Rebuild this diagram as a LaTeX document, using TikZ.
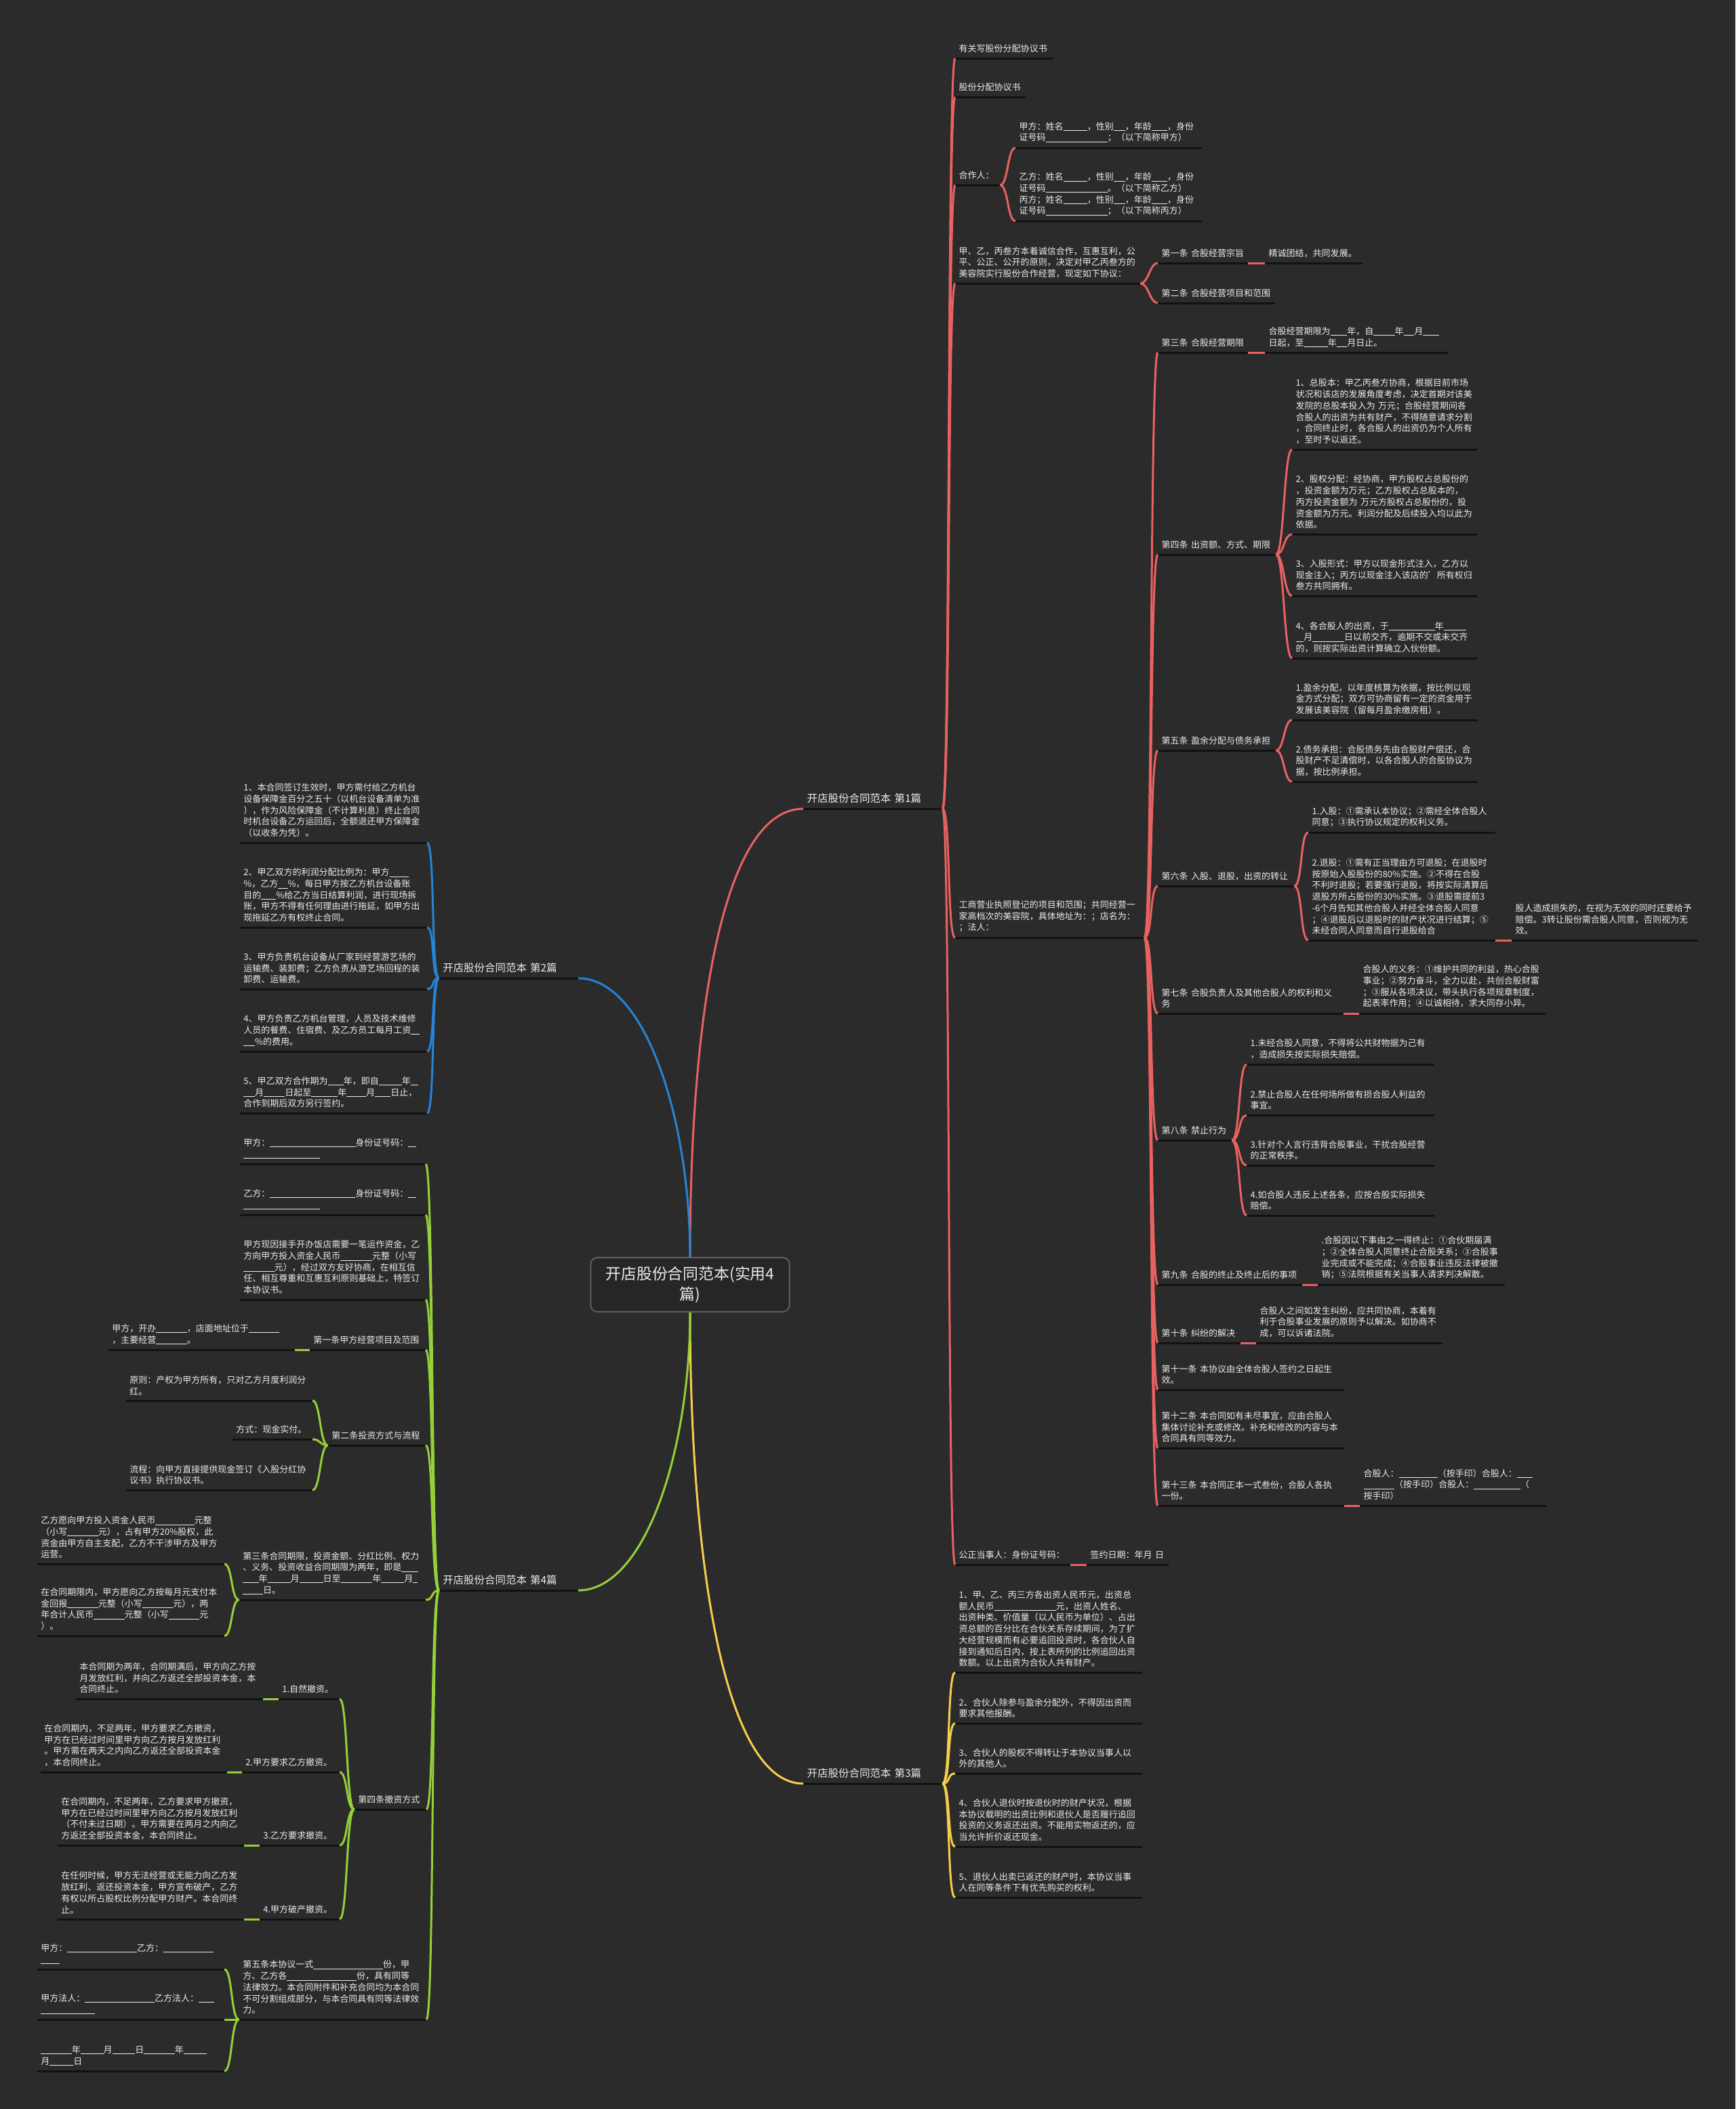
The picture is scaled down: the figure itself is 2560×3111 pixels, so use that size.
\documentclass[tikz,border=0pt]{standalone}
\usepackage{fontspec}
\setmainfont{Noto Sans CJK SC}
\usetikzlibrary{positioning}

\definecolor{bgc}{RGB}{43,43,43}
\definecolor{txt}{RGB}{236,236,236}
\definecolor{ulc}{RGB}{18,18,18}
\definecolor{rootfill}{RGB}{38,38,38}
\definecolor{rootline}{RGB}{95,95,95}
\definecolor{cred}{RGB}{232,98,98}
\definecolor{cblue}{RGB}{38,132,212}
\definecolor{cyel}{RGB}{246,206,74}
\definecolor{cgrn}{RGB}{148,208,58}

\newcommand{\bl}[1]{\rule[-0.12em]{#1em}{0.05em}}

\tikzset{
  ulline/.style={draw=ulc, line width=0.3mm},
  leaf/.style={font=\fontsize{3.7}{4.75}\selectfont, text=txt, inner xsep=0.5mm, inner ysep=0.75mm,
    align=left, text width=#1mm,
    append after command={(\tikzlastnode.south west) edge[ulline] (\tikzlastnode.south east)}},
  rleaf/.style={leaf=#1, anchor=south west},
  lleaf/.style={leaf=#1, anchor=south east},
  branch/.style={font=\fontsize{4.4}{5.5}\selectfont, text=txt, inner xsep=0.5mm, inner ysep=0.75mm,
    align=left, text width=19.4mm,
    append after command={(\tikzlastnode.south west) edge[ulline] (\tikzlastnode.south east)}},
  root/.style={font=\fontsize{6.5}{8.5}\selectfont, text=txt, fill=rootfill, draw=rootline, line width=0.2mm,
    rounded corners=1mm, minimum width=28.6mm, minimum height=8mm, text width=27mm, align=center},
  lred/.style={draw=cred, line width=0.3mm},
  lblue/.style={draw=cblue, line width=0.3mm},
  lyel/.style={draw=cyel, line width=0.3mm},
  lgrn/.style={draw=cgrn, line width=0.3mm},
  rt/.style={out=0, in=180, out distance=1.2mm, in distance=1.2mm},
  lt/.style={out=180, in=0, out distance=1.2mm, in distance=1.2mm},
}

\begin{document}
\begin{tikzpicture}[x=0.1mm, y=-0.1mm]
\useasboundingbox (0,0) rectangle (2560,3111);
\fill[bgc] (0,0) rectangle (2560,3111);

% centre and the four branches
\node[root] (root) at (1018,1895) {开店股份合同范本(实用4\\篇)};
\node[branch, anchor=south west] (b1) at (1185,1193) {开店股份合同范本~第1篇};
\node[branch, anchor=south east] (b2) at (853,1443) {开店股份合同范本~第2篇};
\node[branch, anchor=south west] (b3) at (1185,2631) {开店股份合同范本~第3篇};
\node[branch, anchor=south east] (b4) at (853,2346) {开店股份合同范本~第4篇};

% branch 1
\node[rleaf=13.3] (n11) at (1409,86) {有关写股份分配协议书};
\node[rleaf=9.3] (n12) at (1409,143) {股份分配协议书};
\node[rleaf=5.5] (n13) at (1409,273) {合作人：};
\node[rleaf=26.4] (n131) at (1498,218) {甲方：姓名\bl{2.7}，性别\bl{1.3}，年龄\bl{1.8}，身份\\证号码\bl{7}；（以下简称甲方）};
\node[rleaf=26.4] (n132) at (1498,326) {乙方：姓名\bl{2.7}，性别\bl{1.3}，年龄\bl{1.8}，身份\\证号码\bl{7}。（以下简称乙方）\\丙方；姓名\bl{2.7}，性别\bl{1.3}，年龄\bl{1.8}，身份\\证号码\bl{7}；（以下简称丙方）};
\node[rleaf=26.2] (n14) at (1409,418) {甲、乙，丙叁方本着诚信合作，互惠互利，公\\平、公正、公开的原则，决定对甲乙丙叁方的\\美容院实行股份合作经营，现定如下协议：};
\node[rleaf=12.2] (n141) at (1708,388) {第一条~合股经营宗旨};
\node[rleaf=13.3] (n1411) at (1866,388) {精诚团结，共同发展。};
\node[rleaf=16.2] (n142) at (1708,447) {第二条~合股经营项目和范围};
\node[rleaf=26.8] (n15) at (1409,1383) {工商营业执照登记的项目和范围；共同经营一\\家高档次的美容院，具体地址为：；店名为：\\；法人：};
\node[rleaf=12.2] (n151) at (1708,520) {第三条~合股经营期限};
\node[rleaf=25.9] (n1511) at (1866,520) {合股经营期限为\bl{1.9}年，自\bl{2.4}年\bl{1.2}月\bl{1.8}\\日起，至\bl{2.7}年\bl{1.2}月日止。};
\node[rleaf=16.3] (n152) at (1708,818) {第四条~出资额、方式、期限};
\node[rleaf=26.3] (n1521) at (1906,663) {1、总股本：甲乙丙叁方协商，根据目前市场\\状况和该店的发展角度考虑，决定首期对该美\\发院的总股本投入为~万元；合股经营期间各\\合股人的出资为共有财产，不得随意请求分割\\，合同终止时，各合股人的出资仍为个人所有\\，至时予以返还。};
\node[rleaf=26.3] (n1522) at (1906,788) {2、股权分配：经协商，甲方股权占总股份的\\，投资金额为万元；乙方股权占总股本的，\\丙方投资金额为~万元方股权占总股份的，投\\资金额为万元。利润分配及后续投入均以此为\\依据。};
\node[rleaf=26.3] (n1523) at (1906,879) {3、入股形式：甲方以现金形式注入，乙方以\\现金注入；丙方以现金注入该店的'所有权归\\叁方共同拥有。};
\node[rleaf=26.3] (n1524) at (1906,971) {4、各合股人的出资，于\bl{5.2}年\bl{2.6}\\\bl{0.9}月\bl{3.6}日以前交齐，逾期不交或未交齐\\的，则按实际出资计算确立入伙份额。};
\node[rleaf=16.3] (n153) at (1708,1107) {第五条~盈余分配与债务承担};
\node[rleaf=26.3] (n1531) at (1906,1062) {1.盈余分配，以年度核算为依据，按比例以现\\金方式分配；双方可协商留有一定的资金用于\\发展该美容院（留每月盈余缴房租）。};
\node[rleaf=26.3] (n1532) at (1906,1153) {2.债务承担：合股债务先由合股财产偿还，合\\股财产不足清偿时，以各合股人的合股协议为\\据，按比例承担。};
\node[rleaf=19.0] (n154) at (1708,1307) {第六条~入股、退股，出资的转让};
\node[rleaf=26.5] (n1541) at (1930,1228) {1.入股：①需承认本协议；②需经全体合股人\\同意；③执行协议规定的权利义务。};
\node[rleaf=26.5] (n1542) at (1930,1387) {2.退股：①需有正当理由方可退股；在退股时\\按原始入股股份的80\%实施。②不得在合股\\不利时退股；若要强行退股，将按实际清算后\\退股方所占股份的30\%实施。③退股需提前3\\-6个月告知其他合股人并经全体合股人同意\\；④退股后以退股时的财产状况进行结算；⑤\\未经合同人同意而自行退股给合};
\node[rleaf=26.4] (n1543) at (2230,1387) {股人造成损失的，在视为无效的同时还要给予\\赔偿。3转让股份需合股人同意，否则视为无\\效。};
\node[rleaf=26.3] (n155) at (1708,1495) {第七条~合股负责人及其他合股人的权利和义\\务};
\node[rleaf=26.4] (n1551) at (2005,1495) {合股人的义务：①维护共同的利益，热心合股\\事业；②努力奋斗，全力以赴，共创合股财富\\；③服从各项决议，带头执行各项规章制度，\\起表率作用；④以诚相待，求大同存小异。};
\node[rleaf=9.8] (n156) at (1708,1682) {第八条~禁止行为};
\node[rleaf=26.6] (n1561) at (1839,1570) {1.未经合股人同意，不得将公共财物据为己有\\，造成损失按实际损失赔偿。};
\node[rleaf=26.6] (n1562) at (1839,1645) {2.禁止合股人在任何场所做有损合股人利益的\\事宜。};
\node[rleaf=26.6] (n1563) at (1839,1719) {3.针对个人言行违背合股事业，干扰合股经营\\的正常秩序。};
\node[rleaf=26.6] (n1564) at (1839,1793) {4.如合股人违反上述各条，应按合股实际损失\\赔偿。};
\node[rleaf=20.2] (n157) at (1708,1895) {第九条~合股的终止及终止后的事项};
\node[rleaf=26.5] (n1571) at (1944,1895) {.合股因以下事由之一得终止：①合伙期届满\\；②全体合股人同意终止合股关系；③合股事\\业完成或不能完成；④合股事业违反法律被撤\\销；⑤法院根据有关当事人请求判决解散。};
\node[rleaf=11.1] (n158) at (1708,1981) {第十条~纠纷的解决};
\node[rleaf=26.4] (n1581) at (1853,1981) {合股人之间如发生纠纷，应共同协商，本着有\\利于合股事业发展的原则予以解决。如协商不\\成，可以诉诸法院。};
\node[rleaf=26.4] (n159) at (1708,2050) {第十一条~本协议由全体合股人签约之日起生\\效。};
\node[rleaf=26.4] (n15a) at (1708,2136) {第十二条~本合同如有未尽事宜，应由合股人\\集体讨论补充或修改。补充和修改的内容与本\\合同具有同等效力。};
\node[rleaf=26.4] (n15b) at (1708,2221) {第十三条~本合同正本一式叁份，合股人各执\\一份。};
\node[rleaf=26.4] (n15b1) at (2006,2221) {合股人：\bl{4.4}（按手印）合股人：\bl{1.8}\\\bl{3.5}（按手印）合股人：\bl{5.3}（\\按手印）};
\node[rleaf=15.9] (n16) at (1409,2308) {公正当事人：身份证号码：};
\node[rleaf=11.0] (n161) at (1603,2308) {签约日期：年月~日};

% branch 3
\node[rleaf=26.5] (n31) at (1409,2467) {1、甲、乙、丙三方各出资人民币元，出资总\\额人民币\bl{7}元，出资人姓名、\\出资种类、价值量（以人民币为单位）、占出\\资总额的百分比在合伙关系存续期间，为了扩\\大经营规模而有必要追回投资时，各合伙人自\\接到通知后日内，按上表所列的比例追回出资\\数额。以上出资为合伙人共有财产。};
\node[rleaf=26.5] (n32) at (1409,2542) {2、合伙人除参与盈余分配外，不得因出资而\\要求其他报酬。};
\node[rleaf=26.5] (n33) at (1409,2616) {3、合伙人的股权不得转让于本协议当事人以\\外的其他人。};
\node[rleaf=26.5] (n34) at (1409,2724) {4、合伙人退伙时按退伙时的财产状况，根据\\本协议载明的出资比例和退伙人是否履行追回\\投资的义务返还出资。不能用实物返还的，应\\当允许折价返还现金。};
\node[rleaf=26.5] (n35) at (1409,2799) {5、退伙人出卖已返还的财产时，本协议当事\\人在同等条件下有优先购买的权利。};

% branch 2
\node[lleaf=26.5] (n21) at (630,1243) {1、本合同签订生效时，甲方需付给乙方机台\\设备保障金百分之五十（以机台设备清单为准\\），作为风险保障金（不计算利息）终止合同\\时机台设备乙方运回后，全额退还甲方保障金\\（以收条为凭）。};
\node[lleaf=26.5] (n22) at (630,1368) {2、甲乙双方的利润分配比例为：甲方\bl{2.2}\\\%，乙方\bl{1.1}\%，每日甲方按乙方机台设备账\\目的\bl{1.7}\%给乙方当日结算利润，进行现场拆\\账，甲方不得有任何理由进行拖延，如甲方出\\现拖延乙方有权终止合同。};
\node[lleaf=26.5] (n23) at (630,1459) {3、甲方负责机台设备从厂家到经营游艺场的\\运输费、装卸费；乙方负责从游艺场回程的装\\卸费、运输费。};
\node[lleaf=26.5] (n24) at (630,1551) {4、甲方负责乙方机台管理，人员及技术维修\\人员的餐费、住宿费、及乙方员工每月工资\bl{1}\\\bl{1.3}\%的费用。};
\node[lleaf=26.5] (n25) at (630,1642) {5、甲乙双方合作期为\bl{1.8}年，即自\bl{2.6}年\bl{0.9}\\\bl{1.3}月\bl{2.4}日起至\bl{3}年\bl{2.2}月\bl{1.8}日止，\\合作到期后双方另行签约。};

% branch 4
\node[lleaf=26.3] (g1) at (628,1717) {甲方：\bl{9.7}身份证号码：\bl{0.9}\\\bl{8.7}};
\node[lleaf=26.3] (g2) at (628,1792) {乙方：\bl{9.7}身份证号码：\bl{0.9}\\\bl{8.7}};
\node[lleaf=26.3] (g3) at (628,1917) {甲方现因接手开办饭店需要一笔运作资金，乙\\方向甲方投入资金人民币\bl{3.6}元整（小写\\\bl{3.5}元），经过双方友好协商，在相互信\\任、相互尊重和互惠互利原则基础上，特签订\\本协议书。};
\node[lleaf=16.0] (g4) at (628,1991) {第一条甲方经营项目及范围};
\node[lleaf=26.4] (g41) at (435,1991) {甲方，开办\bl{3.5}，店面地址位于\bl{3.5}\\，主要经营\bl{3.5}。};
\node[lleaf=13.3] (g5) at (628,2132) {第二条投资方式与流程};
\node[lleaf=26.4] (g51) at (461,2066) {原则：产权为甲方所有，只对乙方月度利润分\\红。};
\node[lleaf=10.7] (g52) at (461,2123) {方式：现金实付。};
\node[lleaf=26.4] (g53) at (461,2198) {流程：向甲方直接提供现金签订《入股分红协\\议书》执行协议书。};
\node[lleaf=26.4] (g6) at (628,2360) {第三条合同期限，投资金额、分红比例、权力\\、义务、投资收益合同期限为两年，即是\bl{1.9}\\\bl{1.8}年\bl{2.6}月\bl{2.7}日至\bl{3.6}年\bl{2.6}月\bl{0.5}\\\bl{2.3}日。};
\node[lleaf=26.5] (g61) at (331,2307) {乙方愿向甲方投入资金人民币\bl{4.4}元整\\（小写\bl{3.5}元），占有甲方20\%股权，此\\资金由甲方自主支配，乙方不干涉甲方及甲方\\运营。};
\node[lleaf=26.5] (g62) at (331,2413) {在合同期限内，甲方愿向乙方按每月元支付本\\金回报\bl{3.5}元整（小写\bl{3.5}元），两\\年合计人民币\bl{3.5}元整（小写\bl{3.5}元\\）。};
\node[lleaf=9.5] (g7) at (629,2669) {第四条撤资方式};
\node[lleaf=7.9] (g71) at (501,2506) {1.自然撤资。};
\node[lleaf=26.5] (g711) at (388,2506) {本合同期为两年，合同期满后，甲方向乙方按\\月发放红利，并向乙方返还全部投资本金，本\\合同终止。};
\node[lleaf=13.3] (g72) at (501,2614) {2.甲方要求乙方撤资。};
\node[lleaf=26.4] (g721) at (335,2614) {在合同期内，不足两年，甲方要求乙方撤资，\\甲方在已经过时间里甲方向乙方按月发放红利\\。甲方需在两天之内向乙方返还全部投资本金\\，本合同终止。};
\node[lleaf=10.7] (g73) at (501,2722) {3.乙方要求撤资。};
\node[lleaf=26.4] (g731) at (360,2722) {在合同期内，不足两年，乙方要求甲方撤资，\\甲方在已经过时间里甲方向乙方按月发放红利\\（不付未过日期）。甲方需要在两月之内向乙\\方返还全部投资本金，本合同终止。};
\node[lleaf=10.7] (g74) at (501,2831) {4.甲方破产撤资。};
\node[lleaf=26.4] (g741) at (360,2831) {在任何时候，甲方无法经营或无能力向乙方发\\放红利、返还投资本金，甲方宣布破产，乙方\\有权以所占股权比例分配甲方财产。本合同终\\止。};
\node[lleaf=26.5] (g8) at (629,2979) {第五条本协议一式\bl{7.9}份，甲\\方、乙方各\bl{7.9}份，具有同等\\法律效力。本合同附件和补充合同均为本合同\\不可分割组成部分，与本合同具有同等法律效\\力。};
\node[lleaf=26.5] (g81) at (331,2905) {甲方：\bl{7.9}乙方：\bl{5.7}\\\bl{2.1}};
\node[lleaf=26.5] (g82) at (331,2979) {甲方法人：\bl{7.9}乙方法人：\bl{1.8}\\\bl{6.1}};
\node[lleaf=26.5] (g83) at (331,3055) {\bl{3.5}年\bl{2.6}月\bl{2.6}日\bl{3.5}年\bl{2.6}\\月\bl{2.7}日};

% connectors from the centre
\draw[lred] (root.north) to[out=90, in=180, out distance=35mm, in distance=12mm] (b1.south west);
\draw[lblue] (root.north) to[out=90, in=0, out distance=20mm, in distance=10mm] (b2.south east);
\draw[lyel] (root.south) to[out=-90, in=180, out distance=35mm, in distance=12mm] (b3.south west);
\draw[lgrn] (root.south) to[out=-90, in=0, out distance=20mm, in distance=10mm] (b4.south east);

% branch 1 links
\foreach \c in {n11,n12,n13,n14,n15,n16}
  \draw[lred] (b1.south east) to[rt] (\c.south west);
\foreach \c in {n131,n132}
  \draw[lred] (n13.south east) to[rt] (\c.south west);
\foreach \c in {n141,n142}
  \draw[lred] (n14.south east) to[rt] (\c.south west);
\draw[lred] (n141.south east) to[rt] (n1411.south west);
\foreach \c in {n151,n152,n153,n154,n155,n156,n157,n158,n159,n15a,n15b}
  \draw[lred] (n15.south east) to[rt] (\c.south west);
\draw[lred] (n151.south east) to[rt] (n1511.south west);
\foreach \c in {n1521,n1522,n1523,n1524}
  \draw[lred] (n152.south east) to[rt] (\c.south west);
\foreach \c in {n1531,n1532}
  \draw[lred] (n153.south east) to[rt] (\c.south west);
\foreach \c in {n1541,n1542}
  \draw[lred] (n154.south east) to[rt] (\c.south west);
\draw[lred] (n1542.south east) to[rt] (n1543.south west);
\draw[lred] (n155.south east) to[rt] (n1551.south west);
\foreach \c in {n1561,n1562,n1563,n1564}
  \draw[lred] (n156.south east) to[rt] (\c.south west);
\draw[lred] (n157.south east) to[rt] (n1571.south west);
\draw[lred] (n158.south east) to[rt] (n1581.south west);
\draw[lred] (n15b.south east) to[rt] (n15b1.south west);
\draw[lred] (n16.south east) to[rt] (n161.south west);

% branch 2 links
\foreach \c in {n21,n22,n23,n24,n25}
  \draw[lblue] (b2.south west) to[lt] (\c.south east);

% branch 3 links
\foreach \c in {n31,n32,n33,n34,n35}
  \draw[lyel] (b3.south east) to[rt] (\c.south west);

% branch 4 links
\foreach \c in {g1,g2,g3,g4,g5,g6,g7,g8}
  \draw[lgrn] (b4.south west) to[lt] (\c.south east);
\draw[lgrn] (g4.south west) to[lt] (g41.south east);
\foreach \c in {g51,g52,g53}
  \draw[lgrn] (g5.south west) to[lt] (\c.south east);
\foreach \c in {g61,g62}
  \draw[lgrn] (g6.south west) to[lt] (\c.south east);
\foreach \c in {g71,g72,g73,g74}
  \draw[lgrn] (g7.south west) to[lt] (\c.south east);
\draw[lgrn] (g71.south west) to[lt] (g711.south east);
\draw[lgrn] (g72.south west) to[lt] (g721.south east);
\draw[lgrn] (g73.south west) to[lt] (g731.south east);
\draw[lgrn] (g74.south west) to[lt] (g741.south east);
\foreach \c in {g81,g82,g83}
  \draw[lgrn] (g8.south west) to[lt] (\c.south east);
\end{tikzpicture}
\end{document}
